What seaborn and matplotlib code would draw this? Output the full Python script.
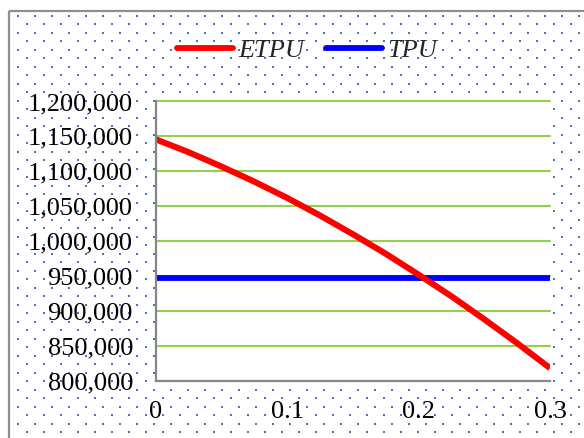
import numpy as np
import pandas as pd
import matplotlib
matplotlib.use("Agg")
import matplotlib.pyplot as plt
from matplotlib.lines import Line2D
from matplotlib.patches import Rectangle
import seaborn as sns

# Discount rate values and the two profit curves
rates = [0.0, 0.025, 0.05, 0.075, 0.1, 0.125, 0.15, 0.175, 0.2, 0.225, 0.25, 0.275, 0.3]
etpu = [1146000, 1127500, 1107000, 1085300, 1062000, 1036800, 1010000,
        982000, 952000, 921000, 888000, 853800, 818000]
tpu_level = 947000
tpu = [tpu_level] * len(rates)

y_ticks = [800000, 850000, 900000, 950000, 1000000, 1050000, 1100000, 1150000, 1200000]
x_ticks = [0, 0.1, 0.2, 0.3]
x_tick_labels = ["0", "0.1", "0.2", "0.3"]
series_names = ["ETPU", "TPU"]

df = pd.DataFrame({"rate": rates, "ETPU": etpu, "TPU": tpu})

sns.set_style("white")
plt.rcParams["font.family"] = ["Liberation Serif", "DejaVu Serif"]
plt.rcParams["font.size"] = 18.5

W, H = 584, 438
fig = plt.figure(figsize=(W / 100, H / 100), dpi=100)
fig.patch.set_facecolor("white")

# Dotted chart-area fill and border (pixel coordinates)
bg = fig.add_axes([0, 0, 1, 1], zorder=0)
bg.set_xlim(0, W)
bg.set_ylim(H, 0)
bg.axis("off")
dx, dy = 17.0, 8.5
ys = np.arange(15.7, H + 5, dy)
pts_x, pts_y = [], []
for i, yy in enumerate(ys):
    x0 = 18.0 if i % 2 == 0 else 26.5
    xs = np.arange(x0, W + 5, dx)
    pts_x.extend(xs)
    pts_y.extend([yy] * len(xs))
bg.scatter(pts_x, pts_y, s=3.0, marker="s", color="#4676c0", linewidths=0)
bg.add_patch(Rectangle((9.3, 11.0), W + 20, H + 20, fill=False,
                       edgecolor="#8e8e8e", linewidth=1.6))

# Plot area
left, right, top, bottom = 155.5, 550.0, 101.5, 380.7
ax = fig.add_axes([left / W, 1 - bottom / H, (right - left) / W, (bottom - top) / H], zorder=2)
ax.set_facecolor("white")

sns.lineplot(data=df, x="rate", y="TPU", ax=ax, color="#0000ff", linewidth=4.2,
             solid_capstyle="butt", zorder=3)
sns.lineplot(data=df, x="rate", y="ETPU", ax=ax, color="#ff0000", linewidth=4.4,
             solid_capstyle="butt", zorder=4)

ax.set_xlim(0, 0.3)
ax.set_ylim(800000, 1200000)
ax.set_xticks(x_ticks)
ax.set_xticklabels(x_tick_labels)
ax.set_yticks(y_ticks)
ax.set_yticklabels([f"{v:,}" for v in y_ticks])
ax.set_xlabel("")
ax.set_ylabel("")

for v in y_ticks[1:]:
    ax.axhline(v, color="#92d050", linewidth=1.5, zorder=1, clip_on=False)

for side in ["top", "right"]:
    ax.spines[side].set_visible(False)
for side in ["left", "bottom"]:
    ax.spines[side].set_color("#878787")
    ax.spines[side].set_linewidth(1.6)
    ax.spines[side].set_zorder(5)

ax.tick_params(axis="both", which="major", direction="out", length=5.2, width=1.5,
               color="#878787", labelsize=19, labelcolor="black")
ax.tick_params(axis="y", pad=11)
ax.tick_params(axis="x", pad=9.5)
ax.grid(False)

handles = [Line2D([0], [0], color="#ff0000", linewidth=4.2, solid_capstyle="round"),
           Line2D([0], [0], color="#0000ff", linewidth=4.2, solid_capstyle="round")]
leg = fig.legend(handles, series_names, loc="center", ncol=2,
                 bbox_to_anchor=(307 / W, 1 - 50 / H), frameon=False,
                 handlelength=2.1, handletextpad=0.2, columnspacing=0.85,
                 prop={"family": "Liberation Serif", "style": "italic", "size": 19})
leg.set_zorder(3)

fig.savefig("out.png", dpi=100)
